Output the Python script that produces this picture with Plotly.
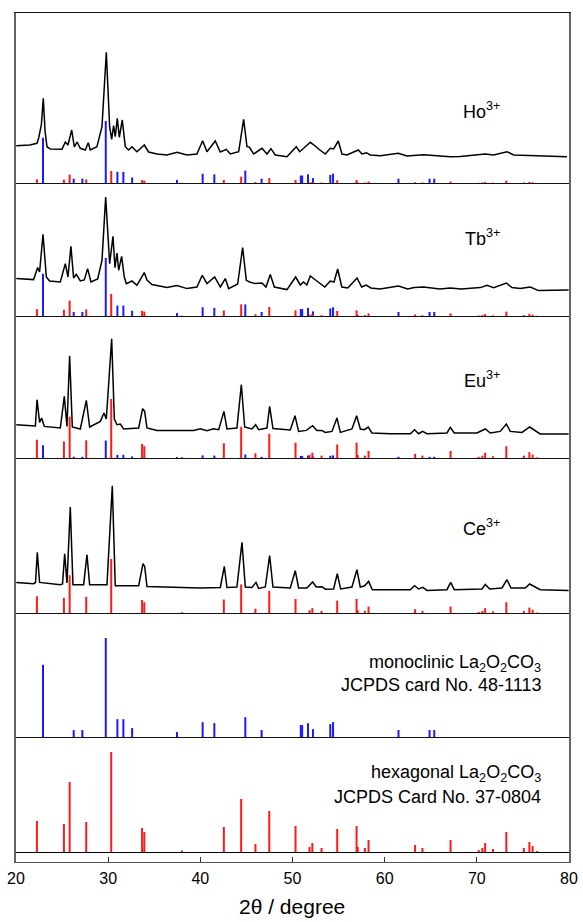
import plotly.graph_objects as go
from plotly.subplots import make_subplots

# ---------------- reference cards (2theta, relative intensity %) ----------------
hex_pos = [22.27, 25.2, 25.82, 27.62, 30.33, 33.68, 33.92, 38.0, 42.55, 44.43, 45.98,
           47.48, 50.33, 51.85, 52.15, 53.15, 54.85, 56.95, 57.08, 57.85, 58.25, 63.3,
           64.1, 67.15, 70.2, 70.6, 70.9, 71.75, 73.2, 75.1, 75.7, 76.05, 76.55]
hex_int = [31, 28, 70, 30, 100, 24, 20, 1.5, 25, 53, 8,
           41, 26, 5, 9, 4, 23, 26, 5, 4, 12, 7,
           4, 12, 2, 4, 9, 3, 20, 4, 10, 6, 1]

mono_pos = [22.93, 26.26, 27.2, 29.74, 31.0, 31.65, 32.6, 37.47, 40.25, 41.52, 44.88,
            46.65, 50.9, 51.05, 51.68, 52.22, 54.1, 54.4, 61.5, 64.87, 65.38]
mono_int = [73, 7, 7, 100, 18, 18, 9, 5, 15, 14, 20,
            7, 12, 12, 14, 8, 13, 15, 7, 7, 7]

# ---------------- measured patterns (2theta, intensity a.u.) ----------------
ho_pattern = [(20.03, 37.3), (21.5, 38), (22.28, 39.7), (22.46, 45), (22.75, 58), (22.96, 84.7),
              (23.15, 52), (23.36, 36.3), (23.72, 34), (24.99, 33.7), (25.35, 41), (25.64, 38),
              (26.04, 53), (26.33, 36), (26.62, 41), (26.98, 34.7), (27.52, 33), (27.84, 40.3),
              (28.06, 33), (28.78, 36.3), (29.33, 56.3), (29.8, 130.7), (30.16, 56.3), (30.38, 43.7),
              (30.59, 57.3), (30.77, 46.3), (30.99, 64.7), (31.21, 45.7), (31.53, 63), (31.86, 36.3),
              (32.22, 33), (32.58, 36.3), (33.12, 31.3), (33.92, 38), (34.39, 31), (35.3, 29),
              (36.38, 28), (37.47, 30.7), (38.55, 28), (39.63, 29), (40.25, 42.3), (40.72, 31.3),
              (41.62, 42), (42.17, 31), (42.82, 33.7), (43.25, 29), (44.16, 31.3), (44.7, 63.7),
              (45.06, 36.3), (45.31, 36), (45.78, 29), (46.69, 34.7), (47.23, 29), (47.66, 34.3),
              (48.13, 28), (49.4, 26.3), (50.41, 36.3), (50.77, 31.3), (51.21, 34.7), (51.93, 40.7),
              (52.47, 37), (52.83, 34), (53.56, 29), (54.1, 34.7), (54.46, 34), (54.97, 42),
              (55.37, 29), (55.91, 28), (57.14, 33), (57.54, 29), (58.01, 30.3), (58.44, 28),
              (59.52, 27.3), (61.48, 29.7), (62.42, 27), (64.23, 28.3), (66.03, 27), (67.12, 26.3),
              (68.2, 26.5), (70.92, 29), (71.82, 28), (73.27, 31.3), (73.99, 28), (76.16, 27.3),
              (79.78, 26.3)]

tb_pattern = [(20.03, 37.4), (21.91, 36.4), (22.35, 48.4), (22.56, 44), (22.93, 81.7), (23.29, 39),
              (23.65, 35), (24.81, 34), (25.35, 52.4), (25.64, 39), (25.96, 69.7), (26.25, 38),
              (26.54, 41.7), (26.98, 35), (27.41, 36), (27.77, 47.4), (28.13, 34), (28.86, 37),
              (29.33, 55.7), (29.73, 119), (30.16, 52.4), (30.52, 79.7), (30.74, 48.4), (30.96, 63),
              (31.14, 45.7), (31.46, 59.7), (31.75, 39), (31.97, 32.4), (32.58, 35), (33.12, 30.7),
              (33.92, 43.4), (34.21, 36), (34.75, 31.4), (36.38, 28.4), (37.47, 30.4), (38.55, 27.4),
              (39.63, 29), (40.21, 40.7), (40.72, 32.4), (41.55, 39), (42.17, 29), (42.71, 37.4),
              (43.07, 27.4), (44.05, 32), (44.59, 68.4), (44.99, 35.7), (45.35, 34), (45.96, 32.4),
              (46.69, 33), (47.12, 29), (47.59, 41.4), (48.03, 29), (49.4, 26.4), (50.34, 39),
              (50.85, 31), (51.2, 34), (51.55, 31), (51.93, 40), (52.5, 36), (53.5, 29), (54.1, 35),
              (54.5, 34), (54.9, 47), (55.35, 29), (56.0, 28), (57.0, 38), (57.5, 29), (58.0, 31),
              (58.5, 28), (59.5, 27), (61.5, 30), (62.5, 27), (63.2, 28.5), (64.2, 29), (66.0, 27),
              (67.1, 28), (68.3, 27), (70.38, 28.4), (71.1, 30.7), (71.82, 28.4), (73.2, 33),
              (73.81, 28.4), (74.71, 27.4), (75.8, 29), (76.7, 25.4), (79.96, 26)]

eu_pattern = [(20.03, 33.3), (21.91, 31.6), (22.1, 32), (22.28, 58.3), (22.56, 35.6), (22.78, 40),
              (23.07, 31.6), (24.81, 30), (25.24, 61.6), (25.53, 31.6), (25.82, 102.3), (26.11, 31),
              (26.98, 29), (27.63, 57.6), (27.99, 31), (29.15, 36.6), (29.54, 45), (29.8, 39),
              (30.38, 119.3), (30.67, 39), (30.96, 33.3), (31.32, 34), (31.68, 29), (33.31, 30),
              (33.74, 49.3), (33.96, 46.6), (34.21, 30), (35.3, 27.6), (39.27, 27.6), (40.0, 29.3),
              (40.72, 27.3), (41.44, 29.3), (41.99, 28.3), (42.56, 46.6), (42.89, 29), (43.97, 30),
              (44.45, 73.3), (44.81, 31), (45.6, 29), (46.0, 33.3), (46.33, 28.3), (47.23, 30),
              (47.52, 51.6), (47.88, 29.5), (49.76, 28), (50.27, 42.3), (50.66, 26.5), (51.5, 27.6),
              (52.18, 32.3), (52.65, 27.6), (53.16, 27.6), (53.56, 25.5), (54.28, 26.6), (54.82, 40),
              (55.19, 25.6), (56.45, 29), (56.96, 42.3), (57.36, 29), (57.79, 28.3), (58.22, 30.9),
              (58.62, 25), (60.61, 24.3), (62.78, 24.3), (63.25, 28.3), (63.68, 24.3), (64.12, 26.6),
              (64.59, 24.3), (66.76, 25), (67.12, 30.6), (67.55, 25), (70.01, 25), (70.92, 29),
              (71.46, 25), (72.54, 26.6), (73.2, 34), (73.63, 26.6), (74.9, 25.6), (75.73, 31),
              (76.16, 28.3), (76.88, 24), (79.96, 24)]

ce_pattern = [(20.03, 30.6), (21.91, 29.3), (22.12, 30.5), (22.31, 60.6), (22.56, 30.6), (24.81, 28.3),
              (25.05, 29), (25.28, 59.3), (25.53, 30), (25.89, 106), (26.18, 28.3), (27.34, 28.3),
              (27.7, 58.3), (27.99, 28.3), (29.87, 28.3), (30.45, 127.3), (30.77, 27.3), (33.31, 27.3),
              (33.78, 49.3), (33.96, 46.6), (34.21, 26.6), (40.0, 25), (42.17, 25.5), (42.6, 46.6),
              (42.89, 25.5), (43.97, 26), (44.52, 70.6), (44.88, 26), (45.6, 25.5), (46.04, 30.6),
              (46.33, 24.5), (47.05, 26), (47.52, 57.3), (47.88, 26), (49.76, 25), (50.3, 42.3),
              (50.66, 25), (51.57, 25), (52.18, 31), (52.58, 26), (53.2, 26.3), (53.56, 23.8),
              (54.46, 24), (54.86, 39.3), (55.22, 24), (56.45, 26), (56.99, 43.3), (57.35, 26),
              (57.79, 27), (58.26, 31.6), (58.66, 23.3), (62.78, 23.3), (63.25, 27.3), (63.68, 24),
              (64.15, 25.6), (64.59, 22.6), (66.76, 23.3), (67.16, 30.6), (67.55, 23.3), (70.56, 24),
              (70.92, 28.6), (71.39, 24), (72.73, 25), (73.27, 33.3), (73.7, 25), (75.26, 25),
              (75.73, 29), (76.09, 27), (76.88, 23.3), (79.96, 22.6)]

x_ticks = [20, 30, 40, 50, 60, 70, 80]

# ---------------- layout constants (page pixels) ----------------
W, H = 583, 922
PL, PR, PT, PB = 16, 569, 13, 862          # plot area edges in px
ML, MR, MT, MB = PL, W - PR, PT, H - PB
PW, PH = PR - PL, PB - PT
bounds = [13, 183, 316, 458, 613, 737, 862]   # panel edges in px (top -> bottom)
HEX_BASE = 852
FONT = "Arial, Liberation Sans, sans-serif"
RED, BLUE = "#ff1a1a", "#1a1aff"


def yp(py):
    return (PB - py) / PH


def xp(px):
    return (px - PL) / PW


def sticks(pos, inten, scale):
    xs, ys = [], []
    for p, i in zip(pos, inten):
        xs += [p, p, None]
        ys += [0, i * scale, None]
    return xs, ys


fig = make_subplots(rows=6, cols=1, shared_xaxes=True, vertical_spacing=0)

panels = [
    (ho_pattern, 0.12, 0.62),
    (tb_pattern, 0.22, 0.58),
    (eu_pattern, 0.59, 0.175),
    (ce_pattern, 0.54, None),
]
for r, (pat, rs, bs) in enumerate(panels, start=1):
    if bs is not None:
        sx, sy = sticks(mono_pos, mono_int, bs)
        fig.add_trace(go.Scatter(x=sx, y=sy, mode="lines", line=dict(color=BLUE, width=2),
                                 hoverinfo="skip", showlegend=False), row=r, col=1)
    sx, sy = sticks(hex_pos, hex_int, rs)
    fig.add_trace(go.Scatter(x=sx, y=sy, mode="lines", line=dict(color=RED, width=2),
                             hoverinfo="skip", showlegend=False), row=r, col=1)
    fig.add_trace(go.Scatter(x=[p[0] for p in pat], y=[p[1] for p in pat], mode="lines",
                             line=dict(color="black", width=1.5), showlegend=False), row=r, col=1)

sx, sy = sticks(mono_pos, mono_int, 0.99)
fig.add_trace(go.Scatter(x=sx, y=sy, mode="lines", line=dict(color=BLUE, width=2),
                         showlegend=False), row=5, col=1)
sx, sy = sticks(hex_pos, hex_int, 1.0)
fig.add_trace(go.Scatter(x=sx, y=sy, mode="lines", line=dict(color=RED, width=2),
                         showlegend=False), row=6, col=1)

for i in range(6):
    top, bot = bounds[i], bounds[i + 1]
    h = bot - top
    yr = [0, h] if i < 5 else [-(PB - HEX_BASE), h - (PB - HEX_BASE)]
    fig.update_yaxes(row=i + 1, col=1, domain=[yp(bot), yp(top)], range=yr,
                     showticklabels=False, ticks="", showgrid=False, automargin=False,
                     zeroline=(i == 5), zerolinecolor="black", zerolinewidth=1.3,
                     showline=True, mirror=True, linecolor="#666666", linewidth=1.6)
    fig.update_xaxes(row=i + 1, col=1, range=[20, 80], showgrid=False, zeroline=False,
                     automargin=False,
                     showline=True, mirror=(i == 0), linecolor="#111111", linewidth=1.4,
                     showticklabels=(i == 5), ticks="inside" if i == 5 else "",
                     tickvals=x_ticks, ticklen=5, tickwidth=1, tickcolor="#333333",
                     tickfont=dict(family=FONT, size=16, color="black"))

fig.update_xaxes(row=6, col=1, ticklabelstandoff=2, linecolor="#555555",
                 ticklabeloverflow="allow")

ann = []
for txt, py in [("Ho<sup>3+</sup>", 110), ("Tb<sup>3+</sup>", 237),
                ("Eu<sup>3+</sup>", 380), ("Ce<sup>3+</sup>", 527)]:
    ann.append(dict(text=txt, x=xp(502), y=yp(py), xref="paper", yref="paper",
                    xanchor="right", yanchor="middle", showarrow=False,
                    font=dict(family=FONT, size=18, color="black")))
for txt, py in [("monoclinic La<sub>2</sub>O<sub>2</sub>CO<sub>3</sub>", 663),
                ("JCPDS card No. 48-1113", 685),
                ("hexagonal La<sub>2</sub>O<sub>2</sub>CO<sub>3</sub>", 773),
                ("JCPDS Card No. 37-0804", 797)]:
    ann.append(dict(text=txt, x=xp(543), y=yp(py), xref="paper", yref="paper",
                    xanchor="right", yanchor="middle", showarrow=False,
                    font=dict(family=FONT, size=18, color="black")))
ann.append(dict(text="2θ / degree", x=xp(292), y=yp(907), xref="paper", yref="paper",
                xanchor="center", yanchor="middle", showarrow=False,
                font=dict(family=FONT, size=21, color="black")))

fig.update_layout(width=W, height=H, margin=dict(l=ML, r=MR, t=MT, b=MB, autoexpand=False),
                  paper_bgcolor="white", plot_bgcolor="white", annotations=ann)

fig.write_html("out.html", config={"displayModeBar": False},
               post_script="document.body.style.margin='0';document.body.style.overflow='hidden';")
